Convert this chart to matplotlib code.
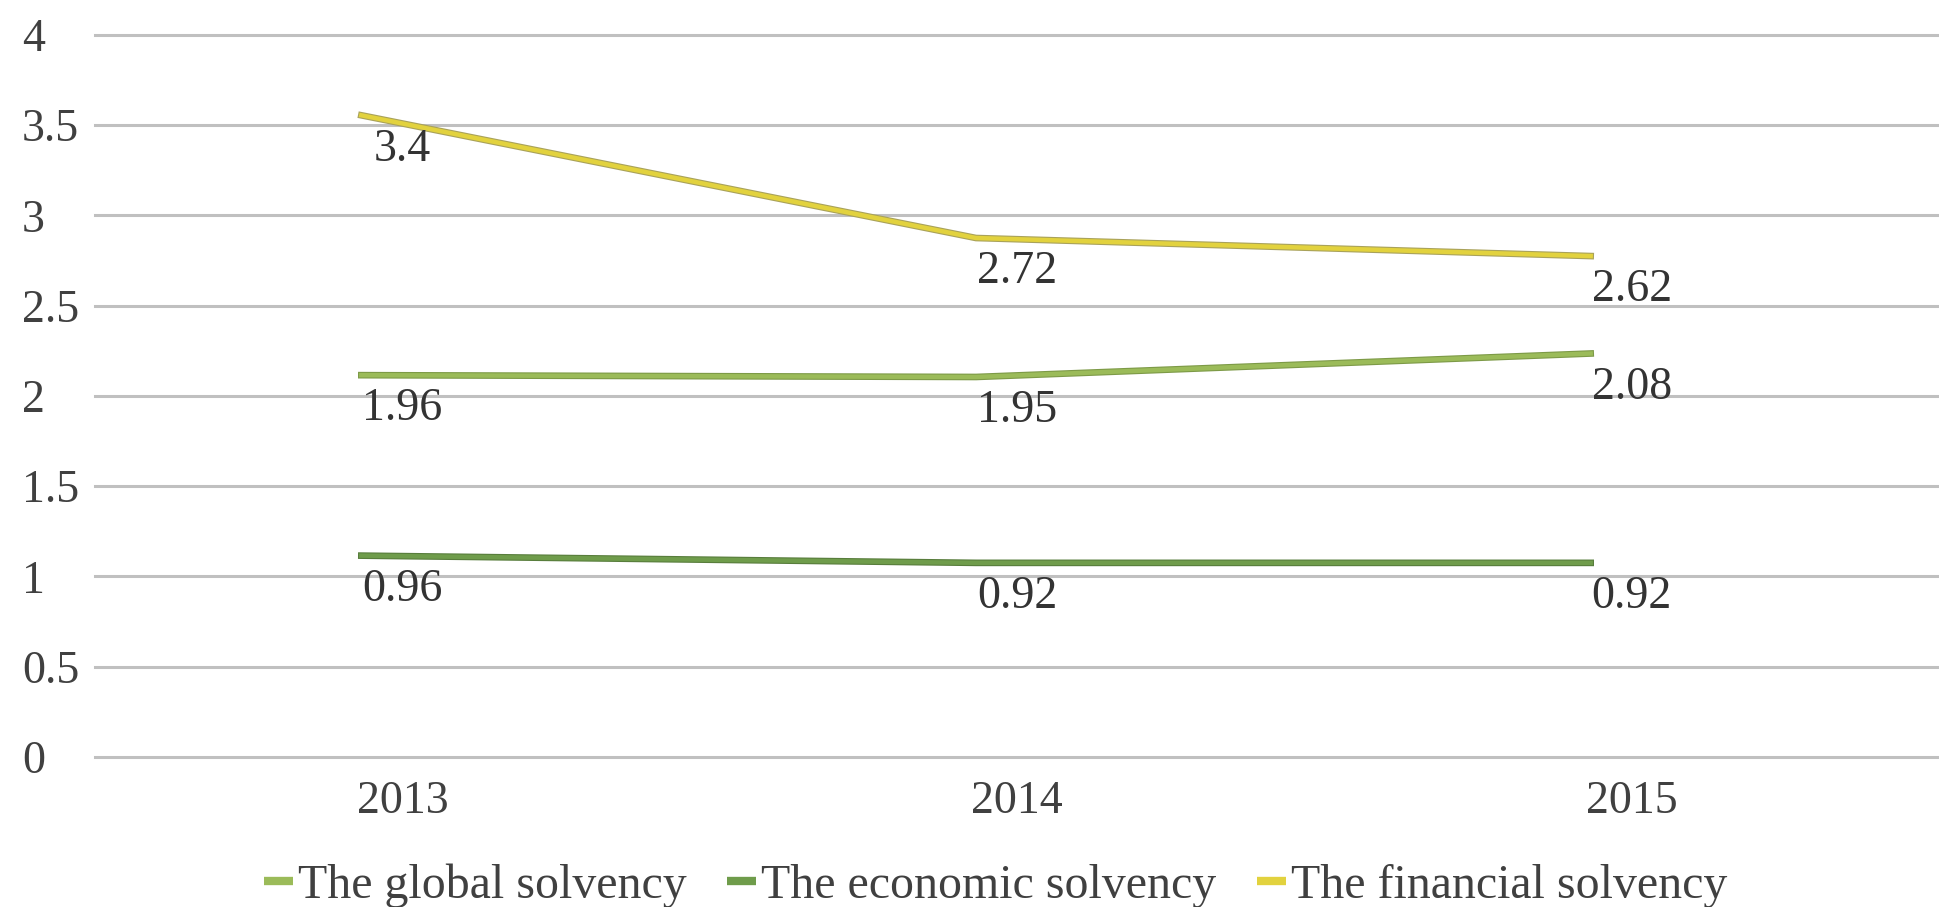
import matplotlib.pyplot as plt
import matplotlib.transforms as mtransforms
import matplotlib.patheffects as pe

years = ["2013", "2014", "2015"]
global_solvency = [1.96, 1.95, 2.08]
economic_solvency = [0.96, 0.92, 0.92]
financial_solvency = [3.4, 2.72, 2.62]
series_names = ["The global solvency", "The economic solvency", "The financial solvency"]

plt.rcParams["font.family"] = ["Liberation Serif", "DejaVu Serif"]

fig = plt.figure(figsize=(19.39, 9.07), dpi=100)
ax = fig.add_axes([0.049, 0.1655, 0.951, 0.7959])

# lines look like a 3D ribbon chart: drawn shifted up-left of the true points
shift = mtransforms.offset_copy(ax.transData, fig=fig, x=-41, y=28, units="dots")
label_shift = mtransforms.offset_copy(ax.transData, fig=fig, x=0, y=-6, units="dots")

styles = [
    ("#9bbb59", "#7d9a47"),
    ("#6f9c4b", "#587d3c"),
    ("#e2d23e", "#a9a25a"),
]
series = [global_solvency, economic_solvency, financial_solvency]
xs = list(range(len(years)))

handles = []
for vals, name, (core, edge) in zip(series, series_names, styles):
    ax.plot(xs, vals, color=core, lw=3.2, transform=shift, solid_joinstyle="miter",
            path_effects=[pe.Stroke(linewidth=4.8, foreground=edge), pe.Normal()], zorder=3)
    for x, v in zip(xs, vals):
        ax.text(x, v, f"{v:g}", ha="center", va="center", fontsize=33, color="#333333",
                transform=label_shift, zorder=4)
    h, = ax.plot([], [], color=core, lw=6, solid_capstyle="butt")
    handles.append(h)

ax.set_xlim(-0.5, 2.5)
ax.set_ylim(0, 4)
ax.set_yticks([0, 0.5, 1, 1.5, 2, 2.5, 3, 3.5, 4])
ax.set_yticklabels(["0", "0.5", "1", "1.5", "2", "2.5", "3", "3.5", "4"])
ax.set_xticks(xs)
ax.set_xticklabels(years)
ax.tick_params(axis="both", length=0, labelsize=33, labelcolor="#404040")
ax.tick_params(axis="y", pad=52.6)
ax.tick_params(axis="x", pad=17)
for lbl in ax.get_yticklabels():
    lbl.set_ha("left")
ax.grid(axis="y", color="#c0c0c0", lw=2.2)
for gl in ax.get_ygridlines():
    gl.set_clip_on(False)
ax.set_axisbelow(True)
for s in ax.spines.values():
    s.set_visible(False)

fig.legend(handles, series_names, loc="center", bbox_to_anchor=(0.5135, 1 - 886 / 907),
           ncol=3, frameon=False, fontsize=34.5, handlelength=0.6, handletextpad=0.1,
           columnspacing=0.85, labelcolor="#404040")

fig.savefig("out.png", dpi=100)
